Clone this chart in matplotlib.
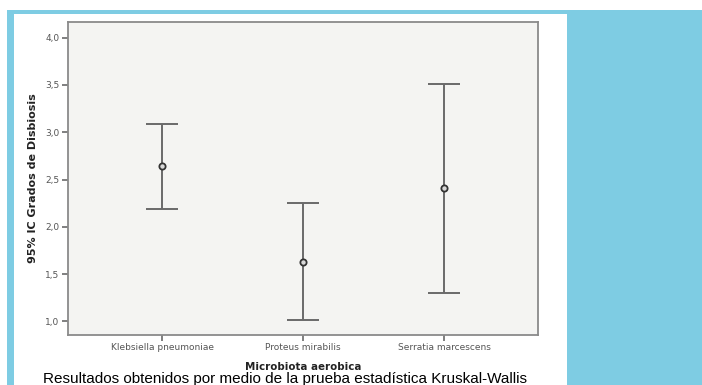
import matplotlib.pyplot as plt
from matplotlib.patches import Rectangle

# data
groups = ['Klebsiella pneumoniae', 'Proteus mirabilis', 'Serratia marcescens']
means = [2.64, 1.63, 2.41]
ci_low = [2.19, 1.02, 1.30]
ci_high = [3.09, 2.25, 3.51]
yticks = [1.0, 1.5, 2.0, 2.5, 3.0, 3.5, 4.0]

W, H = 702, 385
blue = '#7ecce3'

fig = plt.figure(figsize=(W / 100, H / 100), dpi=100)
fig.patch.set_facecolor(blue)

def px_rect(x0, y0, x1, y1, color):
    # rectangle in pixel coords measured from top-left
    fig.patches.append(Rectangle((x0 / W, 1 - y1 / H), (x1 - x0) / W, (y1 - y0) / H,
                                 transform=fig.transFigure, facecolor=color,
                                 edgecolor='none', zorder=-10))

px_rect(0, 0, W, 10, 'white')
px_rect(0, 0, 7, H, 'white')
px_rect(14, 14, 567, H, 'white')

ax = fig.add_axes([68 / W, 1 - 335 / H, 470 / W, 313 / H])
ax.set_facecolor('#f4f4f2')

xpos = [1, 2, 3]
err = [[m - lo for m, lo in zip(means, ci_low)],
       [hi - m for m, hi in zip(means, ci_high)]]
ax.errorbar(xpos, means, yerr=err, fmt='none', ecolor='#6a6a6a',
            elinewidth=1.4, capsize=11.5, capthick=1.4)
ax.plot(xpos, means, 'o', ms=4.5, mfc='#d8d8d8', mec='#333333', mew=1.3)

ax.set_xlim(1 / 3, 11 / 3)
ax.set_ylim(0.857, 4.166)
ax.set_xticks(xpos)
ax.set_xticklabels(groups)
ax.set_yticks(yticks)
ax.set_yticklabels([f'{v:.1f}'.replace('.', ',') for v in yticks])

for s in ax.spines.values():
    s.set_color('#8a8a8a')
    s.set_linewidth(1.3)
ax.tick_params(direction='out', length=4, width=1.2, color='#6a6a6a',
               labelsize=6.5, labelcolor='#555555', pad=2)

ax.set_ylabel('95% IC Grados de Disbiosis', fontsize=8, fontweight='bold',
              color='#222222', labelpad=5)
ax.set_xlabel('Microbiota aerobica', fontsize=7.4, fontweight='bold',
              color='#222222', labelpad=7)

fig.text(285 / W, 2 / H, 'Resultados obtenidos por medio de la prueba estadística Kruskal-Wallis',
         ha='center', va='baseline', fontsize=11, family='Liberation Sans', color='black')

fig.savefig('out.png', dpi=100, facecolor=fig.get_facecolor())
